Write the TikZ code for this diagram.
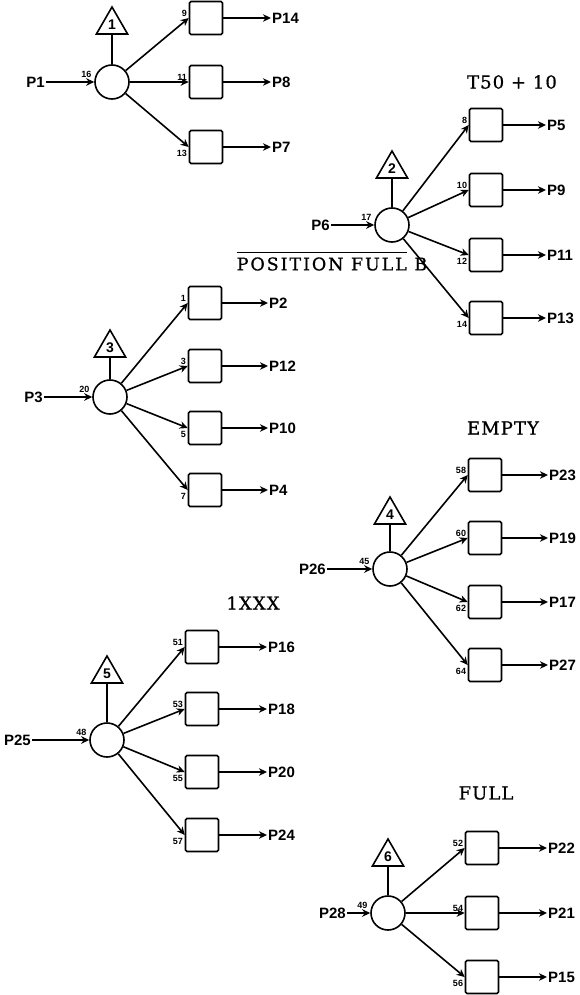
\documentclass[tikz,border=0pt]{standalone}
\usepackage{fontspec}
\setmainfont{DejaVu Serif}[FakeBold=0.8]
\newfontfamily\lblfont{Liberation Sans}
\usetikzlibrary{arrows.meta,shapes.geometric,calc}
\tikzset{
  ln/.style={line width=1.6pt},
  arr/.style={ln,-{Stealth[length=8pt,width=7.5pt,inset=2.5pt]}},
  hub/.style={circle, draw, ln, minimum size=34pt, inner sep=0pt},
  cell/.style={draw, ln, rounded corners=1.5pt, minimum width=33pt, minimum height=33pt, inner sep=0pt},
  flag/.style={regular polygon, regular polygon sides=3, draw, ln, minimum size=36pt, inner sep=0pt,
    font=\lblfont\bfseries\fontsize{14}{14}\selectfont},
  plbl/.style={font=\lblfont\bfseries\fontsize{15}{15}\selectfont, inner sep=1pt},
  num/.style={font=\lblfont\bfseries\fontsize{9}{9}\selectfont, inner sep=0.5pt},
  numup/.style={num, anchor=south east, xshift=-1pt, yshift=1pt},
  numdn/.style={num, anchor=north east, xshift=-1pt, yshift=-3pt},
  head/.style={font=\fontsize{18}{18}\selectfont\addfontfeature{LetterSpace=6}, inner sep=0pt},
}
\begin{document}
\begin{tikzpicture}[x=1pt,y=-1pt]
\fill[white] (0,0) rectangle (579,995);
\useasboundingbox (0,0) rectangle (579,995);

% ---------- Group 1
\node[hub] (c1) at (112,82) {};
\node[flag] (t1) at (112,25) {1};
\draw[ln] (t1.south) -- (c1.north);
\node[plbl, anchor=east] (i1) at (46,82) {P1};
\draw[arr] (i1) -- (c1);
\node[num, anchor=south east] (k1) at ($(c1.west)+(-2,-4)$) {16};
\foreach \n/\y/\num/\lab/\pos in {a/18/9/P14/up, b/82/11/P8/up, c/147/13/P7/dn}{
  \node[cell] (b1\n) at (206,\y) {};
  \draw[arr] (c1) -- (b1\n.west);
  \node[num\pos] (n1\n) at (b1\n.west) {\num};
  \node[plbl, anchor=west] (o1\n) at (271,\y) {\lab};
  \draw[arr] (b1\n) -- (o1\n);
}

% ---------- Group 2
\node[head] (h2) at (512,82) {T50 + 10};
\node[hub] (c2) at (392,225) {};
\node[flag] (t2) at (392,169) {2};
\draw[ln] (t2.south) -- (c2.north);
\node[plbl, anchor=east] (i2) at (331,225) {P6};
\draw[arr] (i2) -- (c2);
\node[num, anchor=south east] (k2) at ($(c2.west)+(-2,-4)$) {17};
\node[inner sep=0pt, font=\fontsize{17.5}{17.5}\selectfont\addfontfeature{LetterSpace=11}] (h3) at (332,264) {POSITION FULL B};
\draw[line width=0.9pt] ($(h3.north west)+(0,-5)$) -- ($(h3.north east)+(-20,-5)$);
\foreach \n/\y/\num/\lab/\pos in {a/125/8/P5/up, b/190/10/P9/up, c/255/12/P11/dn, d/318/14/P13/dn}{
  \node[cell] (b2\n) at (486,\y) {};
  \draw[arr] (c2) -- (b2\n.west);
  \node[num\pos] (n2\n) at (b2\n.west) {\num};
  \node[plbl, anchor=west] (o2\n) at (546,\y) {\lab};
  \draw[arr] (b2\n) -- (o2\n);
}

% ---------- Group 3
\node[hub] (c3) at (110,397) {};
\node[flag] (t3) at (110,348) {3};
\draw[ln] (t3.south) -- (c3.north);
\node[plbl, anchor=east] (i3) at (44,397) {P3};
\draw[arr] (i3) -- (c3);
\node[num, anchor=south east] (k3) at ($(c3.west)+(-2,-4)$) {20};
\foreach \n/\y/\num/\lab/\pos in {a/303/1/P2/up, b/366/3/P12/up, c/428/5/P10/dn, d/490/7/P4/dn}{
  \node[cell] (b3\n) at (205,\y) {};
  \draw[arr] (c3) -- (b3\n.west);
  \node[num\pos] (n3\n) at (b3\n.west) {\num};
  \node[plbl, anchor=west] (o3\n) at (268,\y) {\lab};
  \draw[arr] (b3\n) -- (o3\n);
}

% ---------- Group 4
\node[head] (h4) at (503,428) {EMPTY};
\node[hub] (c4) at (390,569) {};
\node[flag] (t4) at (390,515) {4};
\draw[ln] (t4.south) -- (c4.north);
\node[plbl, anchor=east] (i4) at (327,569) {P26};
\draw[arr] (i4) -- (c4);
\node[num, anchor=south east] (k4) at ($(c4.west)+(-2,-4)$) {45};
\foreach \n/\y/\num/\lab/\pos in {a/475/58/P23/up, b/538/60/P19/up, c/602/62/P17/dn, d/665/64/P27/dn}{
  \node[cell] (b4\n) at (485,\y) {};
  \draw[arr] (c4) -- (b4\n.west);
  \node[num\pos] (n4\n) at (b4\n.west) {\num};
  \node[plbl, anchor=west] (o4\n) at (548,\y) {\lab};
  \draw[arr] (b4\n) -- (o4\n);
}

% ---------- Group 5
\node[head] (h5) at (253,603) {1XXX};
\node[hub] (c5) at (107,740) {};
\node[flag] (t5) at (107,674) {5};
\draw[ln] (t5.south) -- (c5.north);
\node[plbl, anchor=east] (i5) at (32,740) {P25};
\draw[arr] (i5) -- (c5);
\node[num, anchor=south east] (k5) at ($(c5.west)+(-2,-4)$) {48};
\foreach \n/\y/\num/\lab/\pos in {a/647/51/P16/up, b/709/53/P18/up, c/772/55/P20/dn, d/835/57/P24/dn}{
  \node[cell] (b5\n) at (202,\y) {};
  \draw[arr] (c5) -- (b5\n.west);
  \node[num\pos] (n5\n) at (b5\n.west) {\num};
  \node[plbl, anchor=west] (o5\n) at (267,\y) {\lab};
  \draw[arr] (b5\n) -- (o5\n);
}

% ---------- Group 6
\node[head] (h6) at (486,793) {FULL};
\node[hub] (c6) at (388,913) {};
\node[flag] (t6) at (388,857) {6};
\draw[ln] (t6.south) -- (c6.north);
\node[plbl, anchor=east] (i6) at (347,913) {P28};
\draw[arr] (i6) -- (c6);
\node[num, anchor=south east] (k6) at ($(c6.west)+(-2,-4)$) {49};
\foreach \n/\y/\num/\lab/\pos in {a/848/52/P22/up, b/913/54/P21/up, c/977/56/P15/dn}{
  \node[cell] (b6\n) at (482,\y) {};
  \draw[arr] (c6) -- (b6\n.west);
  \node[num\pos] (n6\n) at (b6\n.west) {\num};
  \node[plbl, anchor=west] (o6\n) at (547,\y) {\lab};
  \draw[arr] (b6\n) -- (o6\n);
}
\end{tikzpicture}
\end{document}
